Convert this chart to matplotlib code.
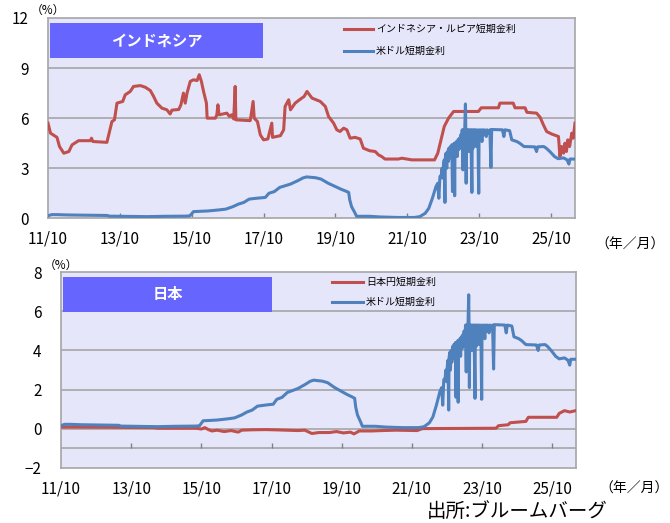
import numpy as np
import matplotlib.pyplot as plt
from matplotlib.patches import Rectangle

plt.rcParams['font.family'] = ['Noto Sans CJK JP', 'DejaVu Sans']

# --- data (decimal years, %) ---
idr_t = [2011.75, 2011.82, 2012.0, 2012.07, 2012.19, 2012.33, 2012.42, 2012.6, 2012.93, 2012.96,
         2013.0, 2013.39, 2013.44, 2013.53, 2013.6, 2013.67, 2013.83, 2013.9, 2014.04, 2014.13,
         2014.32, 2014.46, 2014.6, 2014.69, 2014.78, 2014.92, 2015.06, 2015.15, 2015.2, 2015.39,
         2015.45, 2015.52, 2015.57, 2015.62, 2015.71, 2015.8, 2015.9, 2015.96, 2016.02, 2016.08,
         2016.16, 2016.18, 2016.41, 2016.45, 2016.48, 2016.51, 2016.73, 2016.8, 2016.86, 2016.92,
         2016.96, 2016.98, 2017.38, 2017.46, 2017.49, 2017.58, 2017.66, 2017.75, 2017.87, 2017.98,
         2018.0, 2018.22, 2018.31, 2018.35, 2018.45, 2018.5, 2018.63, 2018.75, 2018.88, 2018.96,
         2019.1, 2019.33, 2019.47, 2019.56, 2019.7, 2019.79, 2019.88, 2019.98, 2020.07, 2020.16,
         2020.3, 2020.44, 2020.53, 2020.7, 2020.86, 2020.95, 2021.04, 2021.13, 2021.5, 2021.6,
         2021.88, 2022.51, 2022.6, 2022.69, 2022.78, 2022.9, 2023.04, 2023.73, 2023.81, 2024.29,
         2024.33, 2024.7, 2024.75, 2025.03, 2025.08, 2025.35, 2025.45, 2025.54, 2025.63, 2025.77,
         2025.96, 2026.0, 2026.05, 2026.1, 2026.14, 2026.18, 2026.22, 2026.27, 2026.33, 2026.37,
         2026.42]
idr_v = [5.7, 5.1, 4.85, 4.3, 3.9, 4.0, 4.4, 4.65, 4.65, 4.8,
         4.6, 4.55, 5.0, 5.8, 5.9, 6.9, 7.0, 7.4, 7.6, 7.9,
         7.95, 7.85, 7.65, 7.3, 6.9, 6.6, 6.5, 6.25, 6.48, 6.52,
         6.8, 7.5, 6.9, 7.5, 8.2, 8.3, 8.25, 8.6, 8.2, 7.6,
         6.9, 6.0, 6.0, 6.2, 6.8, 6.2, 6.3, 6.1, 6.2, 5.95,
         7.9, 5.9, 5.85, 7.0, 6.0, 5.8, 5.0, 4.7, 4.75, 5.7,
         4.85, 4.95, 5.3, 6.7, 7.1, 6.5, 6.9, 7.1, 7.3, 7.6,
         7.2, 7.0, 6.7, 6.1, 5.7, 5.3, 5.2, 5.4, 5.3, 4.8,
         4.85, 4.75, 4.2, 4.05, 4.0, 3.8, 3.7, 3.55, 3.55, 3.6,
         3.5, 3.5, 3.9, 4.7, 5.5, 6.0, 6.4, 6.4, 6.62, 6.62,
         6.9, 6.9, 6.62, 6.62, 6.35, 6.3, 6.05, 5.6, 5.2, 5.05,
         4.9, 3.7, 4.3, 3.9, 4.5, 4.0, 4.7, 4.3, 5.1, 4.8,
         5.7]

usd_t = [2011.75, 2011.85, 2012.0, 2012.3, 2013.0, 2013.4, 2013.45, 2014.5, 2015.0, 2015.6,
         2015.7, 2015.8, 2016.2, 2016.5, 2016.7, 2016.9, 2017.05, 2017.2, 2017.35, 2017.55,
         2017.8, 2017.9, 2018.05, 2018.2, 2018.35, 2018.5, 2018.7, 2018.85, 2018.95, 2019.2,
         2019.35, 2019.55, 2019.7, 2019.9, 2020.05, 2020.12, 2020.15, 2020.2, 2020.3, 2020.34,
         2020.7, 2021.0, 2021.5, 2021.95, 2022.1, 2022.25, 2022.35, 2022.45, 2022.55, 2022.6,
         2022.63, 2022.66, 2022.7, 2022.72, 2022.74, 2022.76, 2022.78, 2022.8, 2022.81, 2022.83,
         2022.85, 2022.87, 2022.89, 2022.91, 2022.93, 2022.95, 2022.97, 2022.99, 2023.01, 2023.02,
         2023.04, 2023.06, 2023.07, 2023.08, 2023.1, 2023.12, 2023.14, 2023.16, 2023.18, 2023.2,
         2023.22, 2023.24, 2023.26, 2023.28, 2023.3, 2023.31, 2023.33, 2023.35, 2023.37, 2023.38,
         2023.39, 2023.4, 2023.42, 2023.44, 2023.46, 2023.48, 2023.5, 2023.52, 2023.55, 2023.56,
         2023.58, 2023.6, 2023.62, 2023.64, 2023.67, 2023.69, 2023.72, 2023.74, 2023.75, 2023.78,
         2023.8, 2023.83, 2023.85, 2023.88, 2023.9, 2023.95, 2023.97, 2024.02, 2024.05, 2024.08,
         2024.1, 2024.4, 2024.44, 2024.47, 2024.6, 2024.66, 2024.8, 2024.88, 2025.0, 2025.3,
         2025.35, 2025.38, 2025.55, 2025.62, 2025.72, 2025.85, 2025.95, 2026.1, 2026.2, 2026.25,
         2026.28, 2026.42]
usd_v = [0.15, 0.22, 0.22, 0.2, 0.18, 0.17, 0.13, 0.1, 0.12, 0.13,
         0.15, 0.4, 0.44, 0.5, 0.55, 0.7, 0.85, 0.95, 1.15, 1.2,
         1.25, 1.5, 1.6, 1.85, 1.95, 2.05, 2.25, 2.42, 2.48, 2.43,
         2.35, 2.1, 1.95, 1.75, 1.62, 1.55, 1.1, 0.7, 0.3, 0.12,
         0.12, 0.08, 0.05, 0.05, 0.1, 0.3, 0.6, 1.2, 1.9, 2.1,
         1.2, 2.5, 2.6, 3.0, 2.4, 3.2, 3.5, 0.95, 3.6, 3.9,
         3.0, 4.0, 3.4, 4.2, 3.6, 4.3, 3.8, 4.4, 1.6, 4.4,
         3.9, 4.5, 1.35, 4.5, 4.0, 4.6, 3.7, 4.7, 4.1, 4.8,
         4.2, 5.0, 4.3, 5.3, 2.9, 5.3, 4.4, 5.3, 6.85, 5.3,
         2.1, 5.3, 4.5, 5.3, 4.0, 5.3, 4.6, 5.3, 1.55, 5.3,
         4.2, 5.3, 4.8, 5.3, 4.3, 5.3, 4.7, 1.5, 5.3, 4.8,
         5.3, 4.6, 5.3, 5.0, 5.3, 4.9, 5.3, 5.1, 5.3, 3.05,
         5.32, 5.3, 4.9, 5.3, 5.25, 4.7, 4.6, 4.5, 4.3, 4.28,
         4.0, 4.28, 4.3, 4.2, 4.0, 3.7, 3.57, 3.62, 3.5, 3.25,
         3.55, 3.55]

jpy_t = [2011.75, 2013.0, 2014.4, 2014.5, 2015.6, 2015.75, 2015.85, 2015.95, 2016.05, 2016.2,
         2016.4, 2016.6, 2016.8, 2016.9, 2017.2, 2017.6, 2018.0, 2018.5, 2018.7, 2018.9,
         2019.1, 2019.4, 2019.6, 2019.8, 2020.0, 2020.1, 2020.25, 2020.6, 2020.9, 2021.3,
         2021.9, 2022.05, 2024.15, 2024.22, 2024.5, 2024.55, 2025.0, 2025.07, 2025.88, 2025.95,
         2026.1, 2026.25, 2026.42]
jpy_v = [0.08, 0.07, 0.05, 0.02, 0.02, -0.02, 0.05, -0.05, -0.12, -0.08,
         -0.15, -0.1, -0.18, -0.08, -0.06, -0.05, -0.07, -0.1, -0.08, -0.25,
         -0.2, -0.2, -0.15, -0.22, -0.18, -0.27, -0.12, -0.12, -0.1, -0.08,
         -0.1, 0.0, 0.02, 0.15, 0.2, 0.3, 0.37, 0.58, 0.58, 0.78,
         0.92, 0.85, 0.92]

tick_pos = [2011.75, 2013.75, 2015.75, 2017.75, 2019.75, 2021.75, 2023.75, 2025.75]
tick_lab = ['11/10', '13/10', '15/10', '17/10', '19/10', '21/10', '23/10', '25/10']

RED = '#C0504D'
BLUE = '#4F81BD'
BG = '#E6E6FA'
GRID = '#A6A6A6'
BOX = '#6666FF'
xlim = (2011.75, 2026.42)

fig = plt.figure(figsize=(6.70, 5.23), dpi=100)
W, H = 670, 523
ax1 = fig.add_axes([48 / W, 1 - 218.3 / H, 527 / W, 200.3 / H])
ax2 = fig.add_axes([61 / W, 1 - 467.7 / H, 514.7 / W, 195.4 / H])


def style(ax, ylim, yticks, grid_y, tick_base):
    ax.set_facecolor(BG)
    ax.set_xlim(*xlim)
    ax.set_ylim(*ylim)
    ax.set_yticks(yticks)
    ax.set_xticks(tick_pos)
    ax.set_xticklabels(tick_lab)
    ax.tick_params(axis='both', length=0, labelsize=11)
    ax.tick_params(axis='y', pad=14)
    ax.tick_params(axis='x', pad=9)
    for s in ax.spines.values():
        s.set_color(GRID)
        s.set_linewidth(1.2)
    for g in grid_y:
        ax.axhline(g, color=GRID, lw=1.2, zorder=1)
    # small inner tick marks on the category axis line
    span = ylim[1] - ylim[0]
    ax.vlines(tick_pos[1:], tick_base, tick_base + span * 0.025, color='#808080', lw=1, zorder=1)


style(ax1, (0, 12), [0, 3, 6, 9, 12], [3, 6, 9], 0)
style(ax2, (-2, 8), [-2, 0, 2, 4, 6, 8], [-1, 0, 2, 4, 6], -1)

ax1.plot(idr_t, idr_v, color=RED, lw=2.2, label='インドネシア・ルピア短期金利', zorder=3)
ax1.plot(usd_t, usd_v, color=BLUE, lw=2.2, label='米ドル短期金利', zorder=3)
ax2.plot(jpy_t, jpy_v, color=RED, lw=2.2, label='日本円短期金利', zorder=3)
ax2.plot(usd_t, usd_v, color=BLUE, lw=2.2, label='米ドル短期金利', zorder=3)

ax1.legend(loc='upper left', bbox_to_anchor=(340 / W, 1 - 20 / H), bbox_transform=fig.transFigure,
           frameon=False, fontsize=7.2, handlelength=2.9, labelspacing=1.2, handletextpad=0.3,
           borderaxespad=0)
ax2.legend(loc='upper left', bbox_to_anchor=(328 / W, 1 - 273 / H), bbox_transform=fig.transFigure,
           frameon=False, fontsize=7.2, handlelength=3.1, labelspacing=1.0, handletextpad=0.3,
           borderaxespad=0)

# title boxes
ax1.add_patch(Rectangle((0.004, 0.80), 0.404, 0.175, transform=ax1.transAxes,
                        facecolor=BOX, edgecolor='none', zorder=4))
ax1.text(0.206, 0.8875, 'インドネシア', transform=ax1.transAxes, color='white', fontsize=11,
         fontweight='bold', ha='center', va='center', zorder=5)
ax2.add_patch(Rectangle((0.004, 0.797), 0.406, 0.179, transform=ax2.transAxes,
                        facecolor=BOX, edgecolor='none', zorder=4))
ax2.text(0.207, 0.8865, '日本', transform=ax2.transAxes, color='white', fontsize=11,
         fontweight='bold', ha='center', va='center', zorder=5)

fig.text(48 / W, 1 - 10 / H, '（%）', fontsize=8.5, ha='center', va='center')
fig.text(61 / W, 1 - 265 / H, '（%）', fontsize=8.5, ha='center', va='center')
fig.text(630 / W, 1 - 245 / H, '（年／月）', fontsize=10, ha='center', va='center')
fig.text(634 / W, 1 - 489 / H, '（年／月）', fontsize=10, ha='center', va='center')
fig.text(517 / W, 1 - 511 / H, '出所:ブルームバーグ', fontsize=14, ha='center', va='center')

fig.savefig('out.png', dpi=100)
